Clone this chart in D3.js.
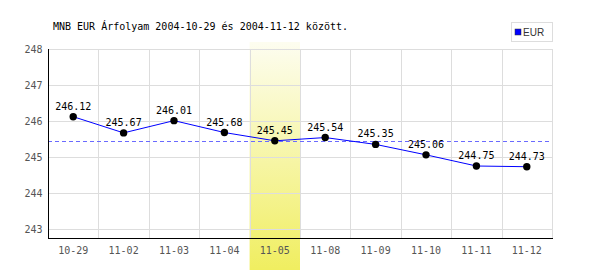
<!DOCTYPE html>
<html><head><meta charset="utf-8">
<script src="https://cdn.jsdelivr.net/npm/d3@7"></script>
<style>body{margin:0;background:#fff}svg{display:block}text{font-family:"DejaVu Sans Mono",monospace;font-size:10px}</style>
</head><body><svg id="c" width="600" height="270"></svg>
<script>
const categories = ["10-29","11-02","11-03","11-04","11-05","11-08","11-09","11-10","11-11","11-12"];
const values = [246.12,245.67,246.01,245.68,245.45,245.54,245.35,245.06,244.75,244.73];
const yTicks = [243,244,245,246,247,248];
const highlight = "11-05";
const title = "MNB EUR Árfolyam 2004-10-29 és 2004-11-12 között.";
const seriesName = "EUR";

const svg = d3.select("#c");
const L=48,R=552,T=49,B=238;
const x = d3.scaleBand().domain(categories).range([L,R]);
const y = d3.scaleLinear().domain([242.75,248]).range([B,T]);

const defs = svg.append("defs");
const g = defs.append("linearGradient").attr("id","hl").attr("x1",0).attr("y1",0).attr("x2",0).attr("y2",1);
g.append("stop").attr("offset","0%").attr("stop-color","#fdfdf0");
g.append("stop").attr("offset","100%").attr("stop-color","#f0ee60");

svg.append("rect").attr("x",x(highlight)).attr("width",x.bandwidth()).attr("y",42).attr("height",228).attr("fill","url(#hl)");

// grid
svg.append("g").selectAll("line").data(yTicks).join("line")
  .attr("x1",L).attr("x2",R).attr("y1",d=>Math.round(y(d))+0.5).attr("y2",d=>Math.round(y(d))+0.5)
  .attr("stroke","#dddddd");
const vb = categories.slice(1).map(c=>x(c)).concat([R]);
svg.append("g").selectAll("line").data(vb).join("line")
  .attr("x1",d=>Math.round(d)+0.5).attr("x2",d=>Math.round(d)+0.5).attr("y1",T).attr("y2",B)
  .attr("stroke","#dddddd");

// mean line
const mean = d3.mean(values);
svg.append("line").attr("x1",L).attr("x2",R).attr("y1",Math.round(y(mean))+0.5).attr("y2",Math.round(y(mean))+0.5)
  .attr("stroke","#6a6aff").attr("stroke-dasharray","4,3");

// axes
const ya = svg.append("g").attr("transform",`translate(${L+0.5},0)`).call(d3.axisLeft(y).tickValues(yTicks).tickSize(0).tickPadding(6).tickFormat(d3.format("d")));
ya.select(".domain").remove();
ya.selectAll("text").attr("fill","#555").style("font-family","DejaVu Sans Mono").style("font-size","10px");
svg.append("line").attr("x1",L+0.5).attr("x2",L+0.5).attr("y1",T).attr("y2",B+0.5).attr("stroke","#000");
svg.append("line").attr("x1",L).attr("x2",R+1).attr("y1",B+0.5).attr("y2",B+0.5).attr("stroke","#000");
const xa = svg.append("g").attr("transform",`translate(0,${B})`).call(d3.axisBottom(x).tickSize(0).tickPadding(9));
xa.select(".domain").remove();
xa.selectAll("text").attr("fill","#555").style("font-family","DejaVu Sans Mono").style("font-size","10px");

// line
const pts = categories.map((c,i)=>[x(c)+x.bandwidth()/2, y(values[i])]);
svg.append("path").attr("d",d3.line()(pts)).attr("fill","none").attr("stroke","#0000ff").attr("stroke-width",1);
svg.append("g").selectAll("circle").data(pts).join("circle")
  .attr("cx",d=>d[0]).attr("cy",d=>d[1]).attr("r",3.7).attr("fill","#000");
svg.append("g").selectAll("text").data(values).join("text")
  .attr("x",(d,i)=>pts[i][0]).attr("y",(d,i)=>pts[i][1]-7).attr("text-anchor","middle").attr("fill","#000")
  .text(d=>d.toFixed(2));

// title
svg.append("text").attr("x",53).attr("y",30).attr("fill","#000").text(title);
// legend
svg.append("rect").attr("x",511.5).attr("y",22.5).attr("width",41).attr("height",19).attr("fill","#fff").attr("stroke","#ddd");
svg.append("rect").attr("x",515).attr("y",29).attr("width",6).attr("height",6).attr("fill","#0000ff").attr("stroke","#333").attr("stroke-width",0.5);
svg.append("text").attr("x",523).attr("y",36).attr("fill","#333").style("font-family","Liberation Sans Narrow, Liberation Sans").style("font-size","10px").text(seriesName);
</script></body></html>
